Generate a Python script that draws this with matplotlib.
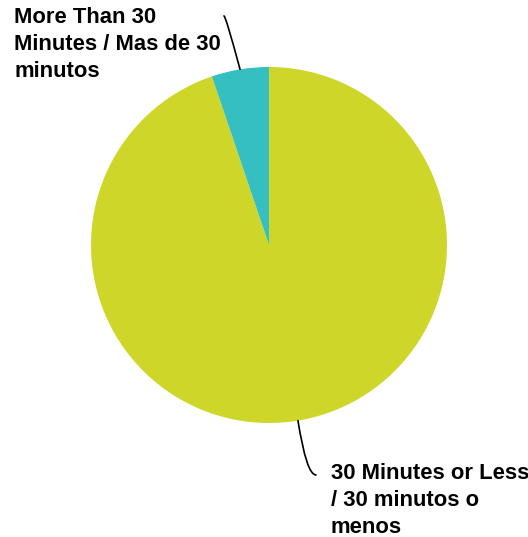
import numpy as np
import matplotlib.pyplot as plt

# Tiempo de traslado / commute time
labels = ['30 Minutes or Less\n/ 30 minutos o\nmenos',
          'More Than 30\nMinutes / Mas de 30\nminutos']
values = [94.8, 5.2]
colors = ['#CFD62A', '#35BFC1']

plt.rcParams['font.family'] = ['Liberation Sans', 'DejaVu Sans']

fig = plt.figure(figsize=(5.28, 5.37), dpi=100)
ax = fig.add_axes([91 / 528, 114 / 537, 356 / 528, 356 / 537])

start = 90 + 360 * values[1] / sum(values)
wedges, _ = ax.pie(values, colors=colors, startangle=start, counterclock=True,
                   radius=1.0, wedgeprops=dict(linewidth=0))
ax.set_xlim(-1, 1)
ax.set_ylim(-1, 1)
ax.set_aspect('equal')
ax.axis('off')

# leader lines from the middle of each wedge to its label
ends = [(0.264, -1.292), (-0.253, 1.287)]
bends = ['angle3,angleA=0,angleB=99', 'angle3,angleA=0,angleB=105']
for w, end, cs in zip(wedges, ends, bends):
    mid = np.deg2rad((w.theta1 + w.theta2) / 2)
    ax.annotate('', xy=(np.cos(mid), np.sin(mid)), xytext=end,
                arrowprops=dict(arrowstyle='-', color='black', lw=1.2,
                                connectionstyle=cs, shrinkA=0, shrinkB=0),
                annotation_clip=False)

fig.text(14 / 528, 1 - 7 / 537, labels[1], ha='left', va='top',
         fontsize=15.8, fontweight='bold', linespacing=1.36)
fig.text(331 / 528, 1 - 463 / 537, labels[0], ha='left', va='top',
         fontsize=15.8, fontweight='bold', linespacing=1.36)

fig.savefig('out.png', dpi=100)
